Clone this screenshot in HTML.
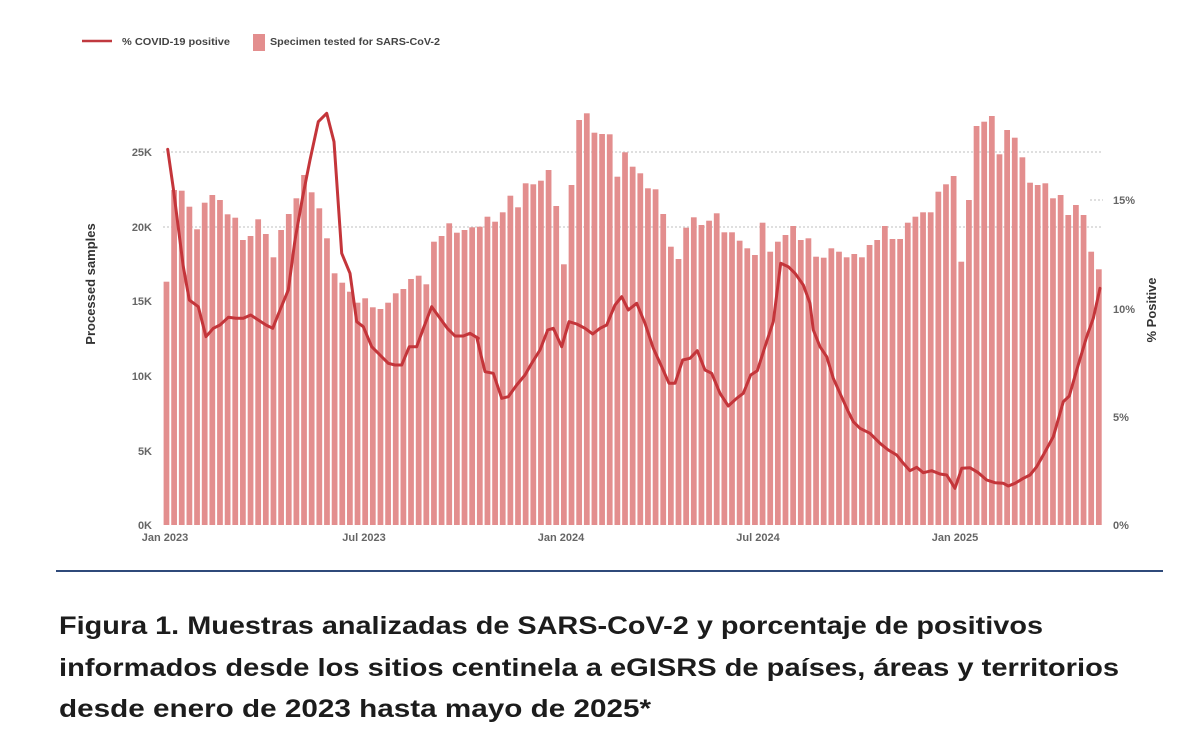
<!DOCTYPE html>
<html><head><meta charset="utf-8">
<style>
html,body{margin:0;padding:0;background:#fff;}
svg{display:block;}
</style></head>
<body>
<svg id="s" width="1200" height="734" viewBox="0 0 1200 734" xmlns="http://www.w3.org/2000/svg" font-family="Liberation Sans, sans-serif">
<rect width="1200" height="734" fill="#fff"/>
<line x1="82" y1="41" x2="112" y2="41" stroke="#c0393f" stroke-width="2.5"/>
<text x="122" y="45" font-size="10" font-weight="bold" fill="#444" textLength="108" lengthAdjust="spacingAndGlyphs">% COVID-19 positive</text>
<rect x="253" y="34" width="12" height="17" fill="#e38e8e"/>
<text x="270" y="45" font-size="10" font-weight="bold" fill="#444" textLength="170" lengthAdjust="spacingAndGlyphs">Specimen tested for SARS-CoV-2</text>
<g stroke="#ccc" stroke-width="1.2" stroke-dasharray="2,2">
<line x1="163" y1="152" x2="1103" y2="152"/>
<line x1="163" y1="227" x2="1103" y2="227"/>
<line x1="1090" y1="200" x2="1103" y2="200"/>
</g>
<g id="bars" fill="#e38e8e"></g>
<polyline id="ln" fill="none" stroke="#c4353a" stroke-width="3" stroke-linejoin="round" stroke-linecap="round"/>
<g font-size="11" font-weight="bold" fill="#666" text-anchor="end">
<text x="152" y="156">25K</text>
<text x="152" y="231">20K</text>
<text x="152" y="305">15K</text>
<text x="152" y="380">10K</text>
<text x="152" y="455">5K</text>
<text x="152" y="529">0K</text>
</g>
<text transform="translate(95,284) rotate(-90)" font-size="13" font-weight="bold" fill="#333" text-anchor="middle">Processed samples</text>
<g font-size="11" font-weight="bold" fill="#666">
<text x="1113" y="204">15%</text>
<text x="1113" y="313">10%</text>
<text x="1113" y="421">5%</text>
<text x="1113" y="529">0%</text>
</g>
<text transform="translate(1156,310) rotate(-90)" font-size="13" font-weight="bold" fill="#333" text-anchor="middle">% Positive</text>
<g font-size="11" font-weight="bold" fill="#666" text-anchor="middle">
<text x="165" y="541">Jan 2023</text>
<text x="364" y="541">Jul 2023</text>
<text x="561" y="541">Jan 2024</text>
<text x="758" y="541">Jul 2024</text>
<text x="955" y="541">Jan 2025</text>
</g>
<line x1="56" y1="571" x2="1163" y2="571" stroke="#2f4a7a" stroke-width="2"/>
<g font-size="25" font-weight="bold" fill="#1c1c1c">
<text x="59" y="634" textLength="984" lengthAdjust="spacingAndGlyphs">Figura 1. Muestras analizadas de SARS-CoV-2 y porcentaje de positivos</text>
<text x="59" y="676" textLength="1060" lengthAdjust="spacingAndGlyphs">informados desde los sitios centinela a eGISRS de países, áreas y territorios</text>
<text x="59" y="717" textLength="592" lengthAdjust="spacingAndGlyphs">desde enero de 2023 hasta mayo de 2025*</text>
</g>
</svg>
<script>
var b1=[545,270,272,320,388,308,285,300,343,353,420,408,358,402,472,390,342,295,225,277,325,415,520,548,575,608,595,622,627,608,580,567,537,527,553,425,408,370,398,390,382];
var b2=[380,350,365,337,287,322,250,253,242,210,318,493,255,60,40,98,102,103,230,157,200,220,265,268,342,440,477,383,352,375,362,340,397,397,422,445,465,368,455,425,405,378,420,415,470,473];
var b3=[445,455,472,462,472,435,420,378,417,417,368,350,337,337,275,253,228,485,300,78,65,48,163,90,113,172,248,255,250,295,285,345,315,345,455,508];
var all=b1.concat(b2,b3);
var n=all.length, x0=163, x1=1103, p=(x1-x0)/n, g=document.getElementById('bars'), h='';
for(var i=0;i<n;i++){var y=100+all[i]/3;h+='<rect x="'+(x0+i*p+0.6).toFixed(2)+'" y="'+y.toFixed(1)+'" width="'+(p-1.9).toFixed(2)+'" height="'+(525-y).toFixed(1)+'"/>';}
g.innerHTML=h;
var L1=[[113,148],[130,265],[160,500],[178,600],[205,620],[228,710],[250,685],[270,675],[295,652],[318,655],[340,655],[362,645],[385,660],[408,675],[428,685],[450,630],[475,570],[495,420],[518,290],[540,180],[565,65],[590,40],[612,125],[635,460],[660,520],[680,665],[700,680],[725,740],[750,765],[775,790],[795,795],[815,795],[838,740],[860,740],[882,680],[905,620],[930,655],[952,685],[975,708],[1000,708],[1020,700],[1045,715]];
var L2=[[20,712],[45,815],[70,820],[95,895],[115,890],[140,855],[165,825],[185,790],[210,750],[233,690],[250,685],[275,740],[297,665],[320,672],[345,685],[368,702],[390,685],[410,675],[435,615],[455,590],[475,630],[500,610],[525,670],[550,745],[575,800],[597,850],[615,850],[638,780],[660,775],[682,752],[705,810],[725,820],[750,880],[775,918],[800,895],[820,880],[842,825],[862,812],[885,740],[910,665],[932,490],[955,500],[975,520],[1000,555],[1020,610]];
var L3=[[40,690],[60,740],[80,770],[100,835],[120,880],[145,935],[160,965],[180,985],[210,1000],[240,1030],[265,1050],[290,1065],[310,1090],[330,1112],[350,1102],[370,1118],[395,1112],[420,1122],[440,1125],[465,1165],[485,1105],[510,1103],[535,1118],[560,1140],[585,1148],[610,1150],[625,1158],[645,1150],[670,1135],[690,1125],[710,1100],[730,1065],[760,1010],[790,905],[808,888],[830,810],[860,710],[880,655],[900,565]];
var pts=[];
L1.forEach(function(q){pts.push((130+q[0]/3).toFixed(1)+','+(100+q[1]/3).toFixed(1));});
L2.forEach(function(q){pts.push((470+q[0]/3).toFixed(1)+','+(100+q[1]/3).toFixed(1));});
L3.forEach(function(q){pts.push((800+q[0]/3).toFixed(1)+','+(100+q[1]/3).toFixed(1));});
document.getElementById('ln').setAttribute('points',pts.join(' '));
</script>
</body></html>
